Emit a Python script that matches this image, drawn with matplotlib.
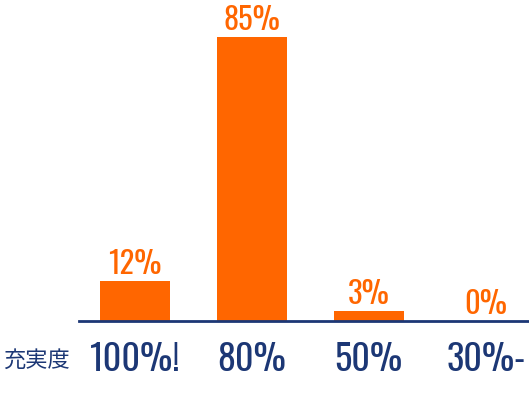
import matplotlib.pyplot as plt
from matplotlib import font_manager

categories = ["100%!", "80%", "50%", "30%-"]
values = [12, 85, 3, 0]
value_labels = ["12%", "85%", "3%", "0%"]
axis_title = "充実度"

ORANGE = "#ff6600"
NAVY = "#1c3775"

# condensed font like the original, fall back if missing
names = {f.name for f in font_manager.fontManager.ttflist}
num_font = next((n for n in ["Oswald Light", "Oswald", "Roboto Condensed", "Barlow Condensed",
                             "Liberation Sans Narrow", "Roboto"] if n in names), "DejaVu Sans")
light = [f for f in font_manager.fontManager.ttflist if f.name == num_font and f.weight in (300, "light")]
num_weight = "light" if light else "normal"

fig = plt.figure(figsize=(5.29, 3.96), dpi=100)
ax = fig.add_axes([0.149, 0.189, 0.851, 0.76])

x = list(range(len(categories)))
bars = ax.bar(x, values, width=0.6, color=ORANGE)

for b, lab in zip(bars, value_labels):
    ax.annotate(lab, (b.get_x() + b.get_width() / 2, b.get_height()),
                xytext=(0, 5), textcoords="offset points",
                ha="center", va="baseline", color=ORANGE,
                fontsize=22, family=num_font, weight=num_weight)

ax.set_xlim(-0.48, 3.37)
ax.set_ylim(0, 90)

for s in ["top", "right", "left"]:
    ax.spines[s].set_visible(False)
ax.spines["bottom"].set_color(NAVY)
ax.spines["bottom"].set_linewidth(2)
ax.set_yticks([])
ax.set_xticks(x)
ax.set_xticklabels(categories, color=NAVY, fontsize=26, family=num_font, weight=num_weight)
ax.tick_params(axis="x", length=0, pad=15)

fig.text(0.006, 0.09, axis_title, color=NAVY, fontsize=16,
         family=["Noto Sans CJK JP", "DejaVu Sans"], va="center")

fig.savefig("out.png", dpi=100)
